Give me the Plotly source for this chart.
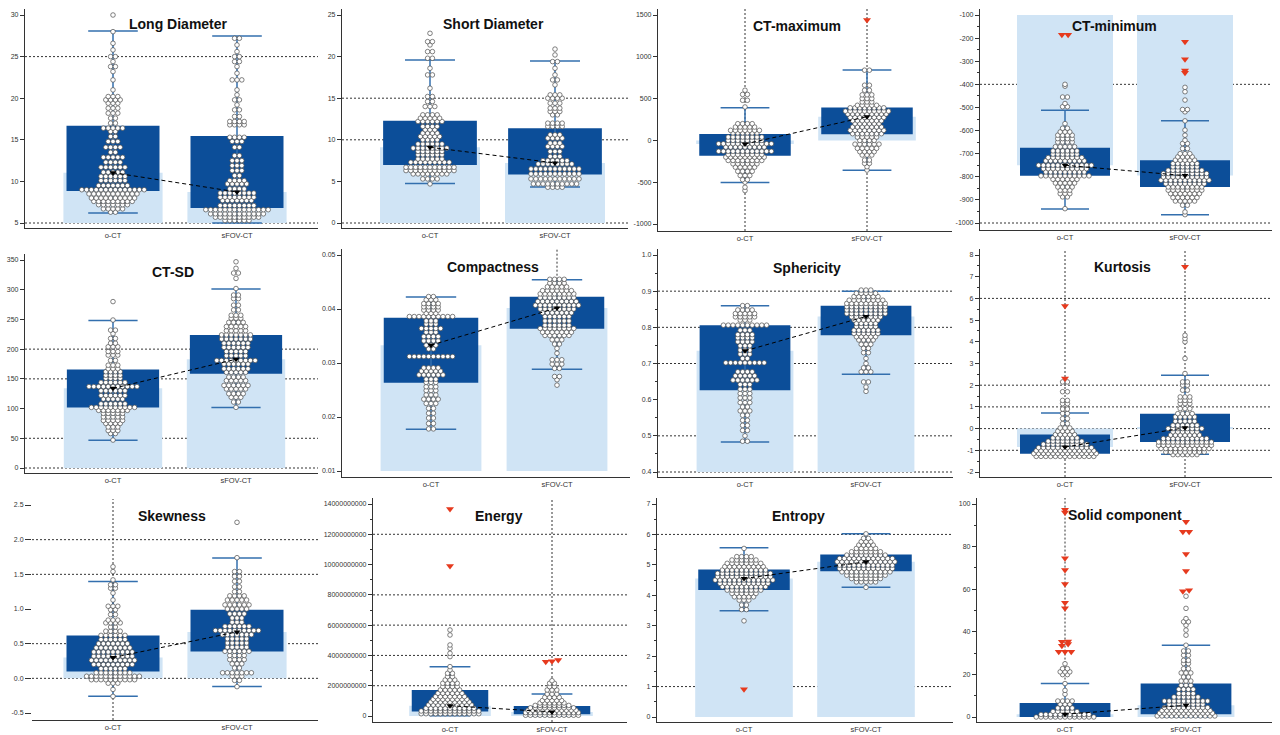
import plotly.graph_objects as go

# ---------------- chart data ----------------
titles = ["Long Diameter", "Short Diameter", "CT-maximum", "CT-minimum",
          "CT-SD", "Compactness", "Sphericity", "Kurtosis",
          "Skewness", "Energy", "Entropy", "Solid component"]
cats = ["o-CT", "sFOV-CT"]

# summary statistics (Energy in units of 1e9)
mean_o = [11.05, 9.1, -43, -750, 134, 0.0333, 0.735, -0.85, 0.30, 0.68, 4.55, 1.3]
mean_s = [8.73, 7.22, 284, -795, 183, 0.0402, 0.830, 0.04, 0.67, 0.27, 5.10, 5.5]
q1_o = [8.85, 6.98, -183, -796, 101.7, 0.02636, 0.626, -1.154, 0.10, 0.29, 4.17, 0.0]
q3_o = [16.68, 12.28, 77, -674, 165.7, 0.0384, 0.806, -0.277, 0.618, 1.72, 4.85, 6.6]
q1_s = [6.8, 5.82, 75, -844, 158.4, 0.03636, 0.778, -0.615, 0.388, 0.11, 4.79, 1.25]
q3_s = [15.47, 11.4, 395, -728, 223.6, 0.04228, 0.860, 0.69, 0.988, 0.66, 5.34, 15.7]
wlo_o = [6.2, 4.74, -505, -939, 46.6, 0.01772, 0.483, -1.25, -0.26, 0.02, 3.49, 0.0]
whi_o = [28.07, 19.58, 392, -512, 248, 0.04222, 0.860, 0.72, 1.396, 3.26, 5.56, 15.7]
wlo_s = [5.0, 4.33, -358, -964, 101.7, 0.02883, 0.670, -1.18, -0.116, 0.0, 4.26, 0.0]
whi_s = [27.47, 19.46, 842, -558, 301, 0.04543, 0.900, 2.46, 1.737, 1.45, 6.02, 33.7]

# outliers (red triangles)
out_o = [[], [], [], [-185, -185], [], [], [], [5.65, 2.31], [], [13.67, 9.9], [0.91],
         [97.3, 96.0, 74.5, 69.0, 62.4, 53.6, 51.0, 35.5, 35.3, 34.3, 33.5, 30.6, 30.6, 30.6]]
out_s = [[], [], [1440], [-216, -291, -340, -350], [], [], [], [7.46], [], [3.59, 3.62, 3.70], [],
         [91.7, 87.0, 87.0, 76.5, 68.5, 59.5, 59.0]]

# individual points: value rows and number of dots in each row
ld_o_vals = [6.3, 6.7, 7.2, 7.6, 8.0, 8.5, 9.0, 9.5, 10.1, 10.6, 11.1, 11.7, 12.3, 12.9, 13.5, 14.1, 14.8, 15.4, 16.0, 16.4,
             17.0, 17.6, 18.2, 18.8, 19.4, 19.8, 20.2, 21.0, 22.2, 23.2, 23.8, 24.4, 25.0, 25.8, 26.6, 28.0, 30.0]
ld_o_cnts = [2, 5, 7, 9, 10, 11, 14, 7, 6, 6, 5, 6, 4, 5, 2, 4, 3, 2, 2, 5,
             2, 2, 3, 3, 3, 4, 3, 1, 1, 1, 2, 1, 2, 1, 1, 1, 1]
ld_s_vals = [5.3, 5.7, 6.1, 6.6, 7.1, 7.7, 8.1, 8.6, 9.1, 9.7, 10.1, 10.7, 11.3, 11.9, 12.5, 13.1, 14.1, 14.8, 15.3,
             16.8, 17.2, 17.8, 18.6, 19.2, 19.8, 20.4, 21.0, 22.2, 23.0, 23.8, 24.4, 25.0, 25.6, 26.4, 27.2]
ld_s_cnts = [6, 10, 12, 14, 8, 7, 8, 8, 4, 5, 4, 2, 3, 3, 3, 2, 2, 3, 4,
             4, 4, 2, 2, 1, 2, 1, 1, 3, 1, 1, 2, 2, 1, 1, 2]

sd_o_vals = [4.7, 5.3, 5.9, 6.3, 6.7, 7.3, 7.7, 8.2, 8.6, 9.0, 9.5, 10.0, 10.4, 10.8, 11.2, 11.6, 12.2, 12.6, 13.0, 14.0,
             14.6, 15.2, 16.2, 17.8, 18.6, 19.8, 20.6, 21.4, 21.8, 22.8]
sd_o_cnts = [1, 4, 8, 11, 11, 9, 6, 6, 6, 8, 6, 4, 5, 4, 3, 4, 6, 5, 4, 3,
             2, 2, 1, 2, 1, 2, 2, 1, 2, 1]
sd_s_vals = [4.3, 4.7, 5.3, 5.9, 6.5, 7.1, 7.5, 8.0, 8.6, 9.2, 9.6, 10.2, 10.6, 11.6, 12.0, 13.0, 13.4, 13.8, 14.4, 15.0,
             15.4, 16.6, 17.2, 17.8, 18.6, 19.4, 20.2, 20.9]
sd_s_cnts = [4, 10, 11, 11, 11, 8, 6, 3, 3, 4, 3, 4, 3, 4, 4, 2, 3, 3, 3, 4,
             3, 1, 2, 1, 1, 2, 1, 1]

cmax_o_vals = [-600, -560, -500, -470, -420, -370, -320, -280, -240, -200, -170, -130, -80, -40, 0, 40, 90, 120, 160, 200,
               400, 480, 550, 600]
cmax_o_cnts = [1, 1, 1, 2, 3, 4, 5, 6, 8, 9, 8, 12, 9, 12, 8, 8, 6, 7, 5, 4, 1, 2, 2, 1]
cmax_s_vals = [-355, -315, -275, -235, -175, -135, -95, -45, 0, 40, 80, 120, 160, 200, 235, 275, 315, 350, 390, 420,
               460, 500, 545, 600, 660, 840]
cmax_s_cnts = [1, 1, 2, 2, 3, 4, 5, 6, 4, 5, 7, 8, 7, 6, 7, 8, 9, 10, 8, 5, 3, 3, 3, 2, 2, 2]

cmin_o_vals = [-938, -887, -873, -858, -844, -827, -811, -796, -779, -765, -750, -731, -717, -702, -688, -670, -650, -635,
               -620, -606, -590, -570, -497, -483, -455, -408, -400]
cmin_o_cnts = [1, 2, 3, 3, 4, 5, 6, 11, 9, 10, 12, 9, 8, 6, 6, 5, 4, 4, 4, 3, 2, 1, 2, 1, 2, 1, 1]
cmin_s_vals = [-964, -952, -923, -905, -890, -873, -858, -844, -830, -815, -801, -786, -772, -757, -743, -728, -714, -700,
               -678, -656, -642, -620, -598, -558, -519, -509, -468, -432, -413]
cmin_s_cnts = [1, 1, 2, 5, 6, 7, 8, 8, 9, 11, 10, 10, 8, 6, 6, 5, 4, 3, 2, 2, 1, 1, 1, 1, 1, 2, 1, 1, 1]

csd_o_vals = [47, 58, 63, 69, 75, 80, 86, 92, 97, 102, 108, 116, 122, 130, 137, 144, 151, 156, 162, 167,
              173, 181, 190, 196, 204, 210, 218, 226, 232, 249, 280]
csd_o_cnts = [1, 2, 3, 3, 4, 5, 5, 5, 7, 10, 6, 5, 6, 6, 11, 6, 4, 4, 4, 3, 3, 2, 3, 3, 3, 2, 2, 1, 2, 1, 1]
csd_s_vals = [102, 111, 119, 125, 133, 139, 147, 153, 161, 167, 175, 181, 189, 196, 203, 210, 217, 224, 231, 238,
              245, 252, 257, 266, 274, 285, 291, 302, 319, 328, 336, 347]
csd_s_cnts = [1, 2, 3, 4, 5, 6, 5, 4, 5, 6, 6, 9, 5, 5, 6, 6, 7, 7, 5, 5, 4, 3, 3, 2, 2, 2, 2, 1, 1, 2, 1, 1]

comp_o_vals = [0.0178, 0.0188, 0.0198, 0.0207, 0.0216, 0.0225, 0.0233, 0.0241, 0.0249, 0.0256, 0.0264, 0.0270, 0.0278,
               0.0285, 0.0291, 0.0312, 0.0326, 0.0333, 0.0341, 0.0349, 0.0357, 0.0364, 0.0372, 0.0378, 0.0386, 0.0392,
               0.0398, 0.0404, 0.0410, 0.0417, 0.0423]
comp_o_cnts = [2, 2, 2, 2, 2, 3, 4, 3, 3, 3, 3, 3, 6, 5, 4, 10, 2, 3, 4, 4, 3, 5, 3, 3, 10, 3, 4, 4, 4, 3, 2]
comp_s_vals = [0.0259, 0.0269, 0.0275, 0.0290, 0.0298, 0.0306, 0.0318, 0.0327, 0.0335, 0.0343, 0.0351, 0.0357, 0.0364,
               0.0370, 0.0378, 0.0386, 0.0393, 0.0400, 0.0407, 0.0414, 0.0421, 0.0428, 0.0434, 0.0441, 0.0448, 0.0455]
comp_s_cnts = [1, 1, 2, 2, 3, 3, 1, 1, 2, 3, 6, 7, 8, 6, 6, 6, 7, 8, 10, 9, 8, 8, 7, 5, 4, 4]

sph_o_vals = [0.485, 0.500, 0.515, 0.529, 0.543, 0.557, 0.569, 0.580, 0.592, 0.605, 0.617, 0.629, 0.642, 0.654, 0.666,
              0.677, 0.702, 0.714, 0.726, 0.737, 0.749, 0.760, 0.771, 0.780, 0.792, 0.806, 0.820, 0.829, 0.838, 0.848, 0.860]
sph_o_cnts = [2, 1, 2, 2, 2, 2, 3, 2, 3, 3, 3, 3, 3, 6, 5, 4, 9, 2, 3, 3, 3, 4, 4, 4, 3, 10, 3, 5, 5, 4, 2]
sph_s_vals = [0.623, 0.635, 0.649, 0.677, 0.688, 0.700, 0.714, 0.730, 0.742, 0.753, 0.765, 0.774, 0.783, 0.792, 0.802,
              0.811, 0.820, 0.829, 0.838, 0.848, 0.857, 0.866, 0.875, 0.885, 0.894, 0.903]
sph_s_cnts = [1, 1, 2, 3, 2, 1, 1, 2, 2, 3, 4, 5, 6, 6, 5, 5, 6, 7, 9, 9, 9, 9, 8, 6, 5, 3]

kur_o_vals = [-1.28, -1.15, -1.02, -0.88, -0.72, -0.58, -0.43, -0.28, -0.12, 0.03, 0.23, 0.46, 0.70, 0.90, 1.15, 1.30,
              1.70, 2.15]
kur_o_cnts = [13, 14, 13, 12, 10, 8, 6, 5, 4, 3, 2, 2, 2, 2, 2, 2, 2, 2]
kur_s_vals = [-1.20, -1.08, -0.92, -0.77, -0.62, -0.46, -0.30, -0.15, 0.00, 0.15, 0.34, 0.54, 0.69, 0.92, 1.15, 1.30,
              1.46, 1.77, 2.00, 2.15, 2.54, 3.23, 4.00, 4.15, 4.30]
kur_s_cnts = [6, 9, 11, 12, 12, 10, 7, 6, 8, 6, 5, 5, 4, 3, 3, 3, 3, 2, 2, 2, 1, 1, 1, 1, 1]

skw_o_vals = [-0.26, -0.16, -0.07, -0.02, 0.03, 0.08, 0.14, 0.20, 0.26, 0.32, 0.38, 0.44, 0.50, 0.56, 0.62, 0.68, 0.74,
              0.80, 0.84, 0.92, 0.99, 1.04, 1.13, 1.23, 1.30, 1.35, 1.42, 1.54, 1.61]
skw_o_cnts = [1, 1, 3, 10, 12, 8, 6, 9, 10, 9, 9, 8, 7, 6, 6, 4, 2, 4, 3, 2, 2, 3, 1, 1, 2, 2, 1, 1, 1]
skw_s_vals = [-0.12, -0.03, 0.03, 0.08, 0.15, 0.21, 0.27, 0.33, 0.39, 0.45, 0.51, 0.57, 0.63, 0.69, 0.75, 0.81, 0.87,
              0.93, 1.00, 1.06, 1.13, 1.19, 1.25, 1.32, 1.40, 1.47, 1.54, 1.74, 2.25]
skw_s_cnts = [1, 2, 3, 7, 2, 3, 4, 4, 6, 5, 5, 5, 7, 10, 6, 3, 3, 4, 5, 6, 5, 4, 2, 2, 2, 2, 2, 1, 1]

eng_o_vals = [0.15, 0.33, 0.51, 0.73, 0.92, 1.10, 1.28, 1.50, 1.72, 1.94, 2.16, 2.38, 2.60, 2.82, 3.04, 3.26, 3.92,
              4.14, 4.47, 4.69, 5.35, 5.68]
eng_o_cnts = [13, 13, 11, 10, 9, 8, 7, 6, 5, 4, 4, 3, 2, 2, 1, 1, 1, 1, 1, 1, 1, 1]
eng_s_vals = [0.05, 0.22, 0.38, 0.54, 0.70, 0.86, 1.02, 1.23, 1.45, 1.72, 1.94, 2.16, 2.33]
eng_s_cnts = [12, 12, 11, 10, 8, 6, 5, 4, 3, 3, 2, 2, 1]

ent_o_vals = [3.16, 3.53, 3.68, 3.84, 3.95, 4.06, 4.17, 4.28, 4.39, 4.50, 4.61, 4.72, 4.83, 4.94, 5.05, 5.16, 5.27, 5.54]
ent_o_cnts = [1, 2, 2, 3, 5, 6, 8, 10, 11, 13, 12, 12, 10, 9, 8, 6, 4, 1]
ent_s_vals = [4.26, 4.44, 4.55, 4.66, 4.77, 4.88, 4.99, 5.10, 5.21, 5.32, 5.43, 5.54, 5.65, 5.76, 5.87, 6.02]
ent_s_cnts = [1, 5, 7, 9, 11, 12, 12, 13, 12, 9, 7, 5, 4, 3, 2, 1]

sol_o_vals = [0.0, 1.2, 2.6, 4.2, 6.0, 7.5, 10.7, 12.5, 15.7, 19.9, 21.2, 22.7, 25.0]
sol_o_cnts = [13, 11, 6, 4, 3, 4, 1, 1, 1, 2, 3, 2, 1]
sol_s_vals = [0.5, 1.8, 3.0, 4.4, 6.0, 7.5, 9.4, 11.0, 13.0, 14.9, 16.9, 18.8, 20.7, 22.7, 25.1, 26.6, 29.0, 31.0, 33.7,
              38.4, 40.8, 43.1, 44.7, 46.2, 51.0, 56.7]
sol_s_cnts = [13, 12, 11, 10, 8, 10, 6, 4, 4, 3, 3, 2, 3, 2, 2, 2, 2, 2, 1, 1, 1, 1, 2, 1, 1, 1]

pts_o = [(ld_o_vals, ld_o_cnts), (sd_o_vals, sd_o_cnts), (cmax_o_vals, cmax_o_cnts), (cmin_o_vals, cmin_o_cnts),
         (csd_o_vals, csd_o_cnts), (comp_o_vals, comp_o_cnts), (sph_o_vals, sph_o_cnts), (kur_o_vals, kur_o_cnts),
         (skw_o_vals, skw_o_cnts), (eng_o_vals, eng_o_cnts), (ent_o_vals, ent_o_cnts), (sol_o_vals, sol_o_cnts)]
pts_s = [(ld_s_vals, ld_s_cnts), (sd_s_vals, sd_s_cnts), (cmax_s_vals, cmax_s_cnts), (cmin_s_vals, cmin_s_cnts),
         (csd_s_vals, csd_s_cnts), (comp_s_vals, comp_s_cnts), (sph_s_vals, sph_s_cnts), (kur_s_vals, kur_s_cnts),
         (skw_s_vals, skw_s_cnts), (eng_s_vals, eng_s_cnts), (ent_s_vals, ent_s_cnts), (sol_s_vals, sol_s_cnts)]

# axis ticks
y_lo = [5, 0, -1000, -1000, 0, 0.01, 0.4, -2, -0.5, 0, 0, 0]
y_hi = [30, 25, 1500, -100, 350, 0.05, 1.0, 8, 2.5, 14, 7, 100]
y_step = [5, 5, 500, 100, 50, 0.01, 0.1, 1, 0.5, 2, 1, 20]
y_dec = [0, 0, 0, 0, 0, 2, 1, 0, 1, 0, 0, 0]
tick_scale = [1, 1, 1, 1, 1, 1, 1, 1, 1, 1e9, 1, 1]   # Energy labels are shown in raw units
has_minor = [False, False, False, True, False, False, True, True, False, True, True, True]
grids = [[5, 25], [0, 10, 15], [], [-400, -1000], [0, 50, 150, 200], [], [0.4, 0.5, 0.7, 0.8, 0.9],
         [-1, 0, 1, 2, 6], [0, 0.5, 1.5, 2.0], [2, 4, 6, 8, 12], [1, 6], []]
# dotted vertical lines: (group, from, to)
vdots = [[], [], [(0, "lo", "hi"), (1, "lo", "hi")], [], [], [(1, "whi", "hi")], [],
         [(0, "lo", "hi"), (1, "lo", "hi")], [(0, "lo", "hi")], [(1, "lo", "hi")], [], [(0, "whi", "hi")]]

# ---------------- layout geometry (pixels) ----------------
W, H = 1280, 735
L_px = [25, 342, 658, 980, 25, 342, 658, 980, 32, 373, 657, 977]
R_px = [318, 628, 952, 1272, 318, 630, 953, 1272, 318, 627, 953, 1272]
c0_px = [113, 430, 745, 1065, 113, 431, 745, 1065, 113, 450, 744, 1065]
c1_px = [237, 555, 867, 1185, 236, 557, 866, 1185, 237, 552, 866, 1186]
top_px = [15, 15, 15, 15, 260, 255, 255, 255, 505, 504, 504, 504]
bot_px = [223, 223, 224, 223, 468, 471, 472, 472, 713, 716, 717, 717]
axis_px = [228, 228, 231, 230, 473, 477, 477, 477, 720, 722, 722, 722]
title_x = [178, 493, 797, 1114, 173, 493, 807, 1122, 172, 499, 798, 1125]
title_y = [24, 24, 26, 26, 272, 267, 268, 267, 516, 516, 516, 515]

LIGHT = "#d0e4f5"
DARK = "#0c4e99"
WHISK = "#336fae"
RED = "#e63a1e"
GRID = "#333333"
DOT_D = 4.8      # dot spacing, px
FONT = "Liberation Sans, Arial, sans-serif"


def expand(vals, cnts):
    return [v for v, c in zip(vals, cnts) for _ in range(c)]


def rows_layout(values, ppu, thr):
    vals = sorted(values)
    rows = []
    for v in vals:
        py = v * ppu
        if rows and abs(py - rows[-1][0]) <= thr:
            rows[-1][1].append(v)
        else:
            rows.append([py, [v]])
    xs, ys = [], []
    for _, rv in rows:
        n = len(rv)
        for i, v in enumerate(rv):
            xs.append((i - (n - 1) / 2) * DOT_D)
            ys.append(v)
    return xs, ys


fig = go.Figure()
layout = {}
shapes = []
annotations = []

for k in range(12):
    sfx = "" if k == 0 else str(k + 1)
    xn, yn = "x" + sfx, "y" + sfx
    unit = c1_px[k] - c0_px[k]
    xr = [(L_px[k] - c0_px[k]) / unit, (R_px[k] - c0_px[k]) / unit]
    lo, hi = y_lo[k], y_hi[k]
    ppu = (bot_px[k] - top_px[k]) / (hi - lo)
    yr = [lo - (axis_px[k] - bot_px[k]) / ppu, hi + 6 / ppu]
    base = min(max(0, lo), hi)

    # light mean bars
    fig.add_trace(go.Bar(x=[0, 1], y=[mean_o[k] - base, mean_s[k] - base], base=[base, base],
                         width=0.8, marker=dict(color=LIGHT, line=dict(width=0)),
                         xaxis=xn, yaxis=yn, showlegend=False, hoverinfo="skip"))
    # dark IQR boxes
    fig.add_trace(go.Bar(x=[0, 1], y=[q3_o[k] - q1_o[k], q3_s[k] - q1_s[k]], base=[q1_o[k], q1_s[k]],
                         width=0.75, marker=dict(color=DARK, line=dict(width=0)),
                         xaxis=xn, yaxis=yn, showlegend=False, hoverinfo="skip"))
    # whiskers
    cw = 0.2
    wx, wy = [], []
    for g, (a, b) in enumerate([(wlo_o[k], whi_o[k]), (wlo_s[k], whi_s[k])]):
        wx += [g, g, None, g - cw, g + cw, None, g - cw, g + cw, None]
        wy += [a, b, None, a, a, None, b, b, None]
    fig.add_trace(go.Scatter(x=wx, y=wy, mode="lines", line=dict(color=WHISK, width=1.5),
                             xaxis=xn, yaxis=yn, showlegend=False, hoverinfo="skip"))
    # points
    px_, py_ = [], []
    ox_, oy_ = [], []
    for g, (pv, outs) in enumerate([(pts_o[k], out_o[k]), (pts_s[k], out_s[k])]):
        xs, ys = rows_layout(expand(*pv), ppu, 1.0)
        px_ += [g + x / unit for x in xs]
        py_ += ys
        xs, ys = rows_layout(outs, ppu, 2.0)
        ox_ += [g + x * 1.3 / unit for x in xs]
        oy_ += ys
    fig.add_trace(go.Scatter(x=px_, y=py_, mode="markers",
                             marker=dict(size=4.6, color="white", line=dict(color="#4a4a4a", width=0.7)),
                             xaxis=xn, yaxis=yn, showlegend=False, hoverinfo="skip"))
    if ox_:
        fig.add_trace(go.Scatter(x=ox_, y=oy_, mode="markers",
                                 marker=dict(size=7, symbol="triangle-down", color=RED, line=dict(width=0)),
                                 xaxis=xn, yaxis=yn, showlegend=False, hoverinfo="skip"))
    # mean line
    fig.add_trace(go.Scatter(x=[0, 1], y=[mean_o[k], mean_s[k]], mode="lines+markers",
                             line=dict(color="black", width=1, dash="4px,3px"),
                             marker=dict(size=6, symbol="triangle-down", color="black"),
                             xaxis=xn, yaxis=yn, showlegend=False, hoverinfo="skip"))

    # gridlines
    for gv in grids[k]:
        shapes.append(dict(type="line", xref=xn + " domain", yref=yn, x0=0, x1=1, y0=gv, y1=gv,
                           line=dict(color=GRID, width=1, dash="2px,2px"), layer="below"))
    for (g, a, b) in vdots[k]:
        wh = whi_o[k] if g == 0 else whi_s[k]
        res = {"lo": yr[0], "hi": yr[1], "whi": wh}
        shapes.append(dict(type="line", xref=xn, yref=yn, x0=g, x1=g, y0=res[a], y1=res[b],
                           line=dict(color=GRID, width=1, dash="2px,2px"), layer="below"))

    # axes
    n = int(round((hi - lo) / y_step[k]))
    tv = [round(lo + i * y_step[k], 6) for i in range(n + 1)]
    if tick_scale[k] != 1:
        tt = [str(int(round(v * tick_scale[k]))) for v in tv]
    else:
        tt = [f"{v:.{y_dec[k]}f}" for v in tv]
    yax = dict(domain=[1 - axis_px[k] / H, 1 - (top_px[k] - 6) / H], range=yr, anchor=xn,
               showline=(k != 8), linecolor="#333", linewidth=1.2, ticks="outside",
               ticklen=(6 if k == 8 else 4), tickwidth=1, tickcolor="#333",
               tickmode="array", tickvals=tv, ticktext=tt,
               tickfont=dict(size=7, color="#333", family=FONT),
               showgrid=False, zeroline=False, fixedrange=True)
    if has_minor[k]:
        mv = [round(lo + (i + 0.5) * y_step[k], 6) for i in range(n)]
        yax["minor"] = dict(tickmode="array", tickvals=mv, ticks="outside", ticklen=2,
                            tickcolor="#333", tickwidth=1, showgrid=False)
    layout["yaxis" + sfx] = yax
    layout["xaxis" + sfx] = dict(domain=[L_px[k] / W, R_px[k] / W], range=xr, anchor=yn,
                                 showline=True, linecolor="#333", linewidth=1.2,
                                 tickmode="array", tickvals=[0, 1], ticktext=cats, ticks="",
                                 tickfont=dict(size=7.5, color="#333", family=FONT),
                                 showgrid=False, zeroline=False, fixedrange=True)
    annotations.append(dict(text="<b>" + titles[k] + "</b>", x=title_x[k] / W, y=1 - title_y[k] / H,
                            xref="paper", yref="paper", xanchor="center", yanchor="middle",
                            showarrow=False, font=dict(size=14, color="#111", family=FONT)))

fig.update_layout(width=W, height=H, margin=dict(l=0, r=0, t=0, b=0),
                  paper_bgcolor="white", plot_bgcolor="white", barmode="overlay",
                  shapes=shapes, annotations=annotations, showlegend=False,
                  font=dict(family=FONT), **layout)
fig.write_html("out.html")
